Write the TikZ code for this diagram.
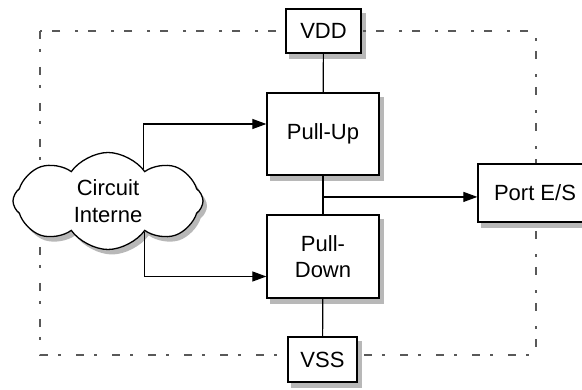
\documentclass[tikz,border=0pt]{standalone}
\usepackage{fontspec}
\setmainfont{Liberation Sans}
\usetikzlibrary{arrows.meta,shapes.symbols,backgrounds,calc}

\begin{document}
\begin{tikzpicture}[x=1pt,y=-1pt,
  every node/.style={font=\fontsize{22}{26.5}\selectfont},
  bloc/.style={draw,fill=white,line width=1.3pt,align=center,inner sep=0pt},
  nuage/.style={cloud,cloud puffs=8,cloud puff arc=110,aspect=2,
    minimum width=190pt,minimum height=97pt,align=center,inner sep=0pt},
  ombre/.style={fill=black!28},
  fil/.style={line width=1.2pt},
  fleche/.style={fil,-{Triangle[length=14pt,width=10pt]}},
  cadre/.style={line width=1.4pt,black!65,dash pattern=on 8pt off 10pt on 3pt off 15pt}]
\useasboundingbox (0,0) rectangle (582,390);
% limite du circuit
\draw[cadre] (40,31) rectangle (536,355);
% blocs
\node[bloc,minimum width=75pt,minimum height=44pt] (vdd) at (323.5,31) {VDD};
\node[bloc,minimum width=112pt,minimum height=82pt] (pu) at (323,134) {Pull-Up};
\node[bloc,minimum width=112pt,minimum height=83pt] (pd) at (323,256.5) {Pull-\\Down};
\node[bloc,minimum width=69pt,minimum height=45pt] (vss) at (322.5,359.5) {VSS};
\node[bloc,minimum width=114pt,minimum height=58pt] (port) at (535,193) {Port E/S};
\node[bloc,nuage] (ci) at (108,201) {Circuit\\Interne};
% ombres
\begin{scope}[on background layer]
\foreach \n in {vdd,pu,pd,vss,port}
  \fill[ombre] ([shift={(4pt,-5pt)}]\n.south west) rectangle ([shift={(4pt,-5pt)}]\n.north east);
\node[nuage,ombre] at ([shift={(4pt,-5pt)}]ci.center) {\phantom{Circuit}\\\phantom{Interne}};
\end{scope}
% liaisons
\draw[fil] (vdd) -- (pu);
\draw[fil] (pu) -- (pd);
\draw[fil] (pd) -- (vss);
\coordinate (noeud) at ($(pu.south)!0.55!(pd.north)$);
\draw[fleche] (noeud) -- (noeud -| port.west);
\draw[fleche] (ci.42) |- ([yshift=10pt]pu.west);
\draw[fleche] (ci.-40) |- ([yshift=-20pt]pd.west);
\end{tikzpicture}
\end{document}
